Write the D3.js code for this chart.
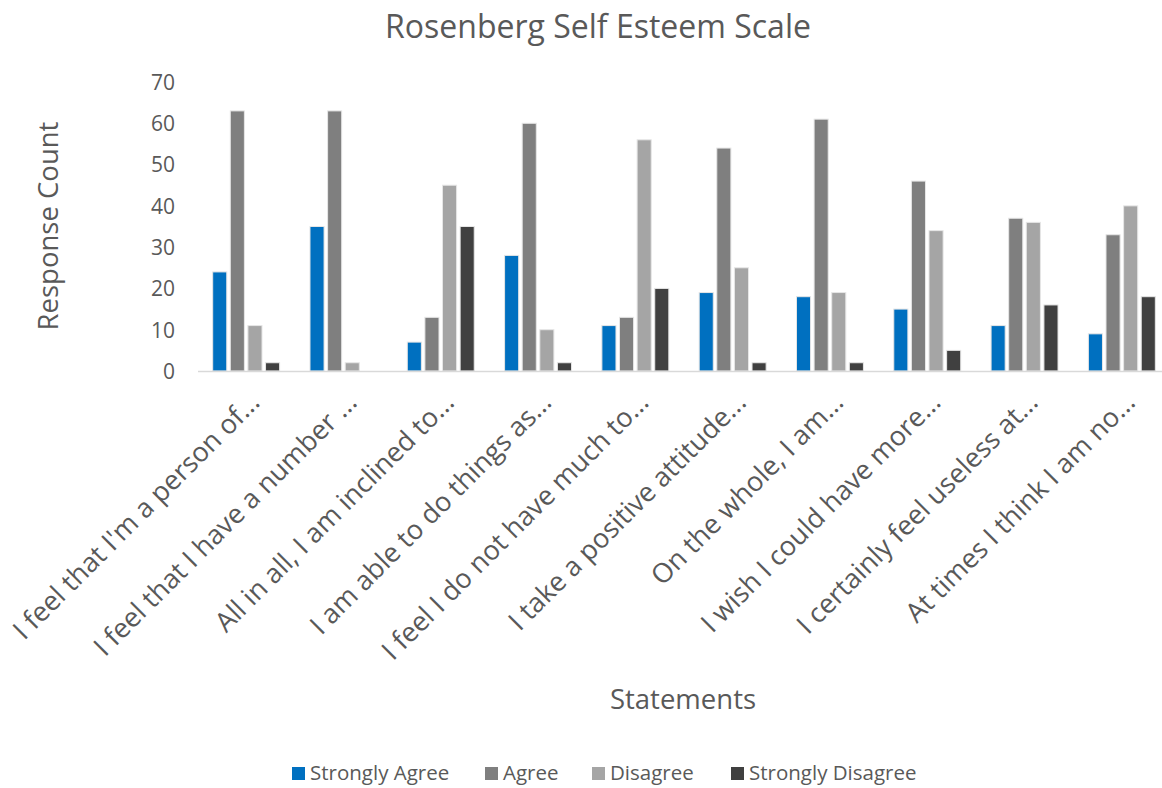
<!DOCTYPE html>
<html>
<head>
<meta charset="utf-8">
<script src="https://cdn.jsdelivr.net/npm/d3@7"></script>
<style>
  html, body { margin: 0; padding: 0; background: #fff; }
  svg text { font-family: "Open Sans", "Noto Sans", sans-serif; fill: #595959; }
</style>
</head>
<body>
<svg id="chart" width="1162" height="788"></svg>
<script>
// Survey statements (axis labels are truncated as shown on the chart)
const statements = [
  "I feel that I'm a person of...",
  "I feel that I have a number ...",
  "All in all, I am inclined to...",
  "I am able to do things as...",
  "I feel I do not have much to...",
  "I take a positive attitude...",
  "On the whole, I am...",
  "I wish I could have more...",
  "I certainly feel useless at...",
  "At times I think I am no..."
];

const seriesNames = ["Strongly Agree", "Agree", "Disagree", "Strongly Disagree"];

// Response counts per statement, one array per answer
const stronglyAgree    = [24, 35,  7, 28, 11, 19, 18, 15, 11,  9];
const agree            = [63, 63, 13, 60, 13, 54, 61, 46, 37, 33];
const disagree         = [11,  2, 45, 10, 56, 25, 19, 34, 36, 40];
const stronglyDisagree = [ 2,  0, 35,  2, 20,  2,  2,  5, 16, 18];

const yTicks = [0, 10, 20, 30, 40, 50, 60, 70];

const colors = ["#0070c0", "#7f7f7f", "#a5a5a5", "#404040"];

const seriesValues = [stronglyAgree, agree, disagree, stronglyDisagree];
const rows = statements.map((s, i) => ({
  statement: s,
  values: seriesNames.map((n, k) => ({ key: n, value: seriesValues[k][i] }))
}));

const svg = d3.select("#chart");
// The plot area runs slightly past the right edge of the canvas
const plot = { left: 197.5, right: 1170.5, top: 82, bottom: 371 };

const x0 = d3.scaleBand()
  .domain(statements)
  .range([plot.left, plot.right])
  .padding(0);

const bw = x0.bandwidth();
const x1 = d3.scaleBand()
  .domain(seriesNames)
  .range([bw * 0.156, bw * 0.844])
  .paddingInner(0.2);

const y = d3.scaleLinear()
  .domain([0, 70])
  .range([plot.bottom, plot.top]);

const color = d3.scaleOrdinal().domain(seriesNames).range(colors);

// Title
svg.append("text")
  .attr("x", 598)
  .attr("y", 38)
  .attr("text-anchor", "middle")
  .style("font-size", "32px")
  .text("Rosenberg Self Esteem Scale");

// Y axis tick labels
const yAxis = d3.axisLeft(y).tickValues(yTicks).tickSize(0).tickPadding(0);
const yg = svg.append("g")
  .attr("transform", `translate(175,0)`)
  .call(yAxis);
yg.select(".domain").remove();
yg.selectAll("text")
  .style("font-size", "21px")
  .attr("fill", "#595959")
  .attr("dy", "0.35em");

// Bars
const groups = svg.append("g")
  .selectAll("g")
  .data(rows)
  .join("g")
  .attr("transform", d => `translate(${x0(d.statement)},0)`);

groups.selectAll("rect")
  .data(d => d.values)
  .join("rect")
  .attr("x", d => x1(d.key))
  .attr("width", x1.bandwidth())
  .attr("y", d => y(d.value))
  .attr("height", d => y(0) - y(d.value))
  .attr("fill", d => color(d.key))
  .attr("stroke", d => d.value > 0 ? "#e6e6e6" : "none")
  .attr("stroke-width", 1);

// X axis line and rotated category labels
const xAxis = d3.axisBottom(x0).tickSize(0).tickPadding(0);
const xg = svg.append("g")
  .attr("transform", `translate(0,${plot.bottom})`)
  .call(xAxis);
xg.select(".domain")
  .attr("stroke", "#d9d9d9")
  .attr("stroke-width", 1.5);
xg.selectAll(".tick text")
  .style("font-size", "27px")
  .attr("fill", "#595959")
  .attr("text-anchor", "end")
  .attr("dy", "0")
  .attr("y", 0)
  .attr("transform", "translate(15,33) rotate(-45)");

// Axis titles
svg.append("text")
  .attr("transform", "translate(58,226) rotate(-90)")
  .attr("text-anchor", "middle")
  .style("font-size", "27.5px")
  .text("Response Count");

svg.append("text")
  .attr("x", 683)
  .attr("y", 709)
  .attr("text-anchor", "middle")
  .style("font-size", "27.5px")
  .text("Statements");

// Legend
const legendX = [292, 485, 592, 731];
const legend = svg.append("g")
  .selectAll("g")
  .data(seriesNames)
  .join("g")
  .attr("transform", (d, i) => `translate(${legendX[i]},767)`);

legend.append("rect")
  .attr("width", 13)
  .attr("height", 13)
  .attr("fill", d => color(d));

legend.append("text")
  .attr("x", 18)
  .attr("y", 13)
  .style("font-size", "20.5px")
  .text(d => d);
</script>
</body>
</html>
